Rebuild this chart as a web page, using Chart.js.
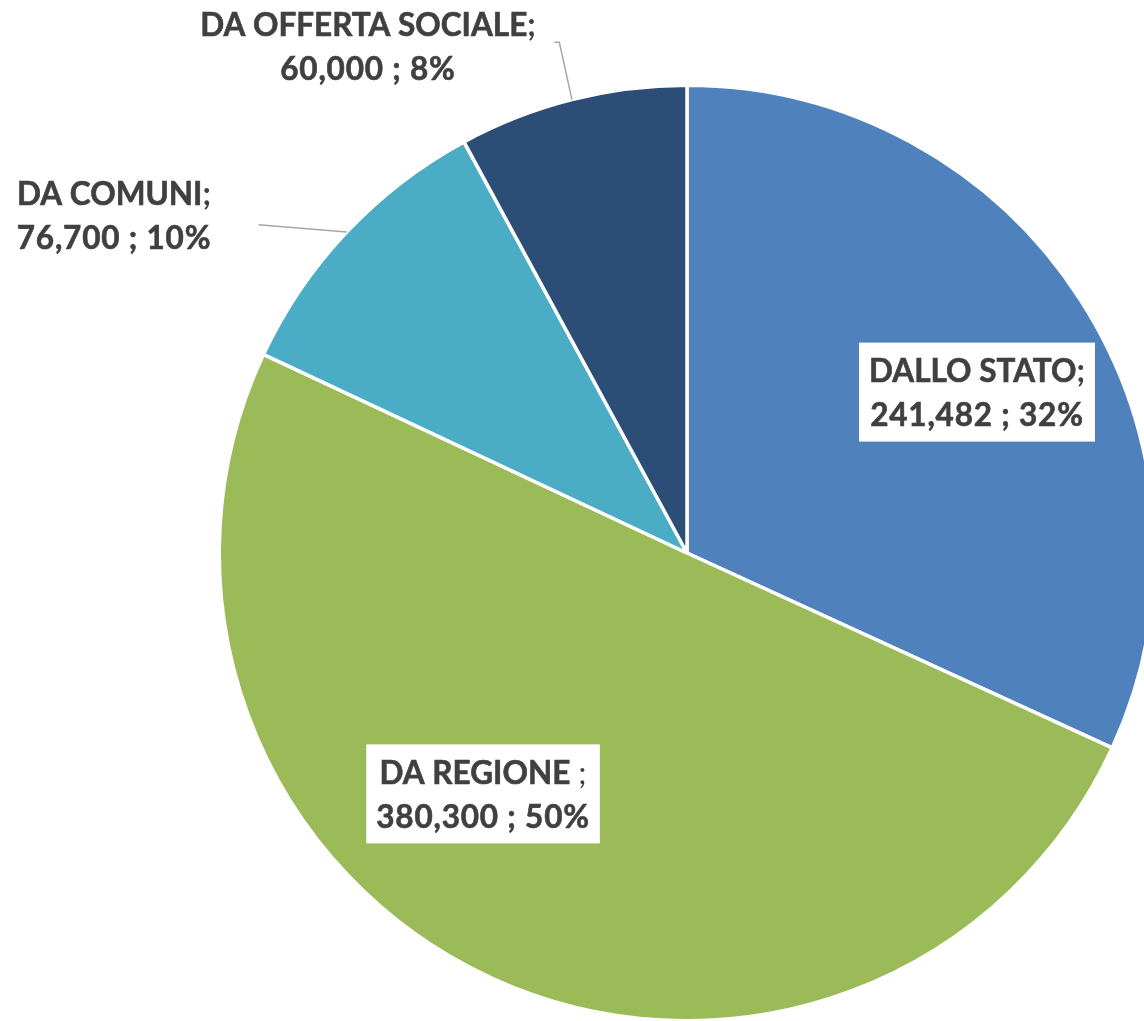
<!DOCTYPE html>
<html>
<head>
<meta charset="utf-8">
<script src="https://cdn.jsdelivr.net/npm/chart.js@4/dist/chart.umd.min.js"></script>
<style>
  html, body { margin: 0; padding: 0; background: #fff; overflow: hidden; }
  #wrap { width: 1144px; height: 1021px; overflow: hidden; }
</style>
</head>
<body>
<div id="wrap"><canvas id="pieChart" width="1200" height="1030"></canvas></div>
<script>
// data
var categories = ['DALLO STATO', 'DA REGIONE', 'DA COMUNI', 'DA OFFERTA SOCIALE'];
var values = [241482, 380300, 76700, 60000];
var colors = ['#4F81BD', '#9BBB59', '#4BACC6', '#2C4D75'];
var separators = [';', ' ;', ';', ';'];

// label placement, in units of the pie radius from its centre
var labelLayout = [
  { dx: 0.620, dy: -0.344, boxed: true },
  { dx: -0.436, dy: 0.515, boxed: true },
  { dx: -1.225, dy: -0.723, leader: [[-0.916, -0.702]] },
  { dx: -0.682, dy: -1.085, leader: [[-0.273, -1.092], [-0.283, -1.092]] }
];

var total = values.reduce(function(a, b) { return a + b; }, 0);
var FONT = 'Lato, "Open Sans", sans-serif';
var fontSize = 31.5;
var lineGap = 44;

function fmt(v) {
  return v.toLocaleString('en-US');
}

var labelPlugin = {
  id: 'sliceLabels',
  afterDatasetsDraw: function(chart) {
    var ctx = chart.ctx;
    var arcs = chart.getDatasetMeta(0).data;
    arcs.forEach(function(arc, i) {
      var p = arc.getProps(['x', 'y', 'outerRadius', 'startAngle', 'endAngle'], true);
      var r = p.outerRadius;
      var lay = labelLayout[i];
      var cx = p.x + lay.dx * r;
      var cy = p.y + lay.dy * r;
      var name = categories[i];
      var sep = separators[i];
      var line2 = fmt(values[i]) + ' ; ' + Math.round(values[i] / total * 100) + '%';

      ctx.save();
      // leader line from the slice edge
      if (lay.leader) {
        var mid = (p.startAngle + p.endAngle) / 2;
        ctx.strokeStyle = '#A6A6A6';
        ctx.lineWidth = 1.5;
        ctx.beginPath();
        ctx.moveTo(p.x + Math.cos(mid) * r, p.y + Math.sin(mid) * r);
        lay.leader.forEach(function(pt) {
          ctx.lineTo(p.x + pt[0] * r, p.y + pt[1] * r);
        });
        ctx.stroke();
      }

      var bold = 'bold ' + fontSize + 'px ' + FONT;
      var normal = 'normal ' + fontSize + 'px ' + FONT;
      ctx.font = bold;
      var nameW = ctx.measureText(name).width;
      var sepIsLight = sep.charAt(0) === ' ';
      ctx.font = sepIsLight ? normal : bold;
      var sepW = ctx.measureText(sep).width;
      ctx.font = bold;
      var w1 = nameW + sepW;
      ctx.letterSpacing = '0.8px';
      var w2 = ctx.measureText(line2).width;
      ctx.letterSpacing = '0px';
      var boxW = Math.max(w1, w2) + 20;

      if (lay.boxed) {
        ctx.fillStyle = '#FFFFFF';
        ctx.fillRect(cx - boxW / 2, cy - 49.5, boxW, 99);
      }

      ctx.fillStyle = '#404040';
      ctx.strokeStyle = '#404040';
      ctx.lineWidth = 0.6;
      ctx.textBaseline = 'middle';
      ctx.textAlign = 'left';
      var y1 = cy - lineGap / 2 + 2;
      var y2 = cy + lineGap / 2 + 2;
      ctx.font = bold;
      ctx.fillText(name, cx - w1 / 2, y1);
      ctx.strokeText(name, cx - w1 / 2, y1);
      ctx.font = sepIsLight ? normal : bold;
      ctx.fillText(sep, cx - w1 / 2 + nameW, y1);
      ctx.font = bold;
      ctx.letterSpacing = '0.8px';
      ctx.fillText(line2, cx - w2 / 2, y2);
      ctx.strokeText(line2, cx - w2 / 2, y2);
      ctx.restore();
    });
  }
};

var ctx = document.getElementById('pieChart');
var pieChart = new Chart(ctx, {
  type: 'pie',
  data: {
    labels: categories,
    datasets: [{
      data: values,
      backgroundColor: colors,
      borderColor: '#FFFFFF',
      borderWidth: 3.5
    }]
  },
  options: {
    responsive: false,
    animation: false,
    layout: {
      padding: { left: 217.5, right: 43.5, top: 83.5, bottom: 7.5 }
    },
    plugins: {
      legend: { display: false },
      tooltip: { enabled: false }
    }
  },
  plugins: [labelPlugin]
});
</script>
</body>
</html>
